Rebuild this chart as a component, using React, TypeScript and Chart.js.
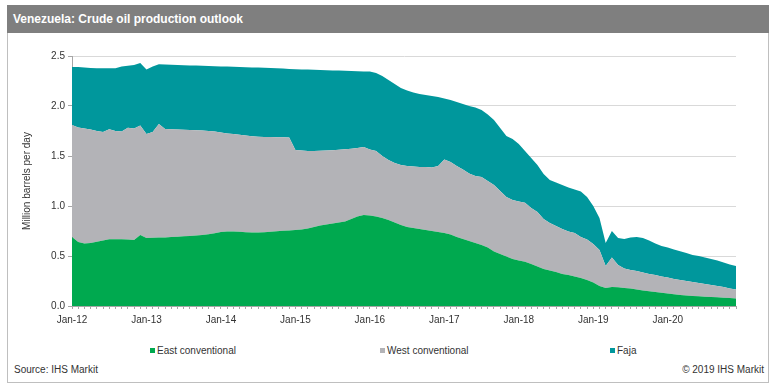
import React, { useEffect, useRef } from "react";
import { Chart, registerables } from "chart.js";

Chart.register(...registerables);

const MONTHS = ["Jan", "Feb", "Mar", "Apr", "May", "Jun", "Jul", "Aug", "Sep", "Oct", "Nov", "Dec"];
const YEARS = ["12", "13", "14", "15", "16", "17", "18", "19", "20"];
const CATEGORIES: string[] = [];
YEARS.forEach((y) => MONTHS.forEach((m) => CATEGORIES.push(`${m}-${y}`)));

const EAST = [
  0.69, 0.64, 0.625, 0.63, 0.643, 0.655, 0.667, 0.668, 0.667, 0.665, 0.66, 0.71,
  0.68, 0.683, 0.685, 0.685, 0.69, 0.693, 0.697, 0.70, 0.705, 0.71, 0.717, 0.727,
  0.74, 0.745, 0.745, 0.742, 0.738, 0.735, 0.735, 0.738, 0.742, 0.748, 0.752, 0.755,
  0.76, 0.765, 0.775, 0.79, 0.805, 0.815, 0.825, 0.835, 0.845, 0.87, 0.895, 0.91,
  0.905, 0.895, 0.88, 0.86, 0.835, 0.81, 0.79, 0.78, 0.77, 0.76, 0.75, 0.74,
  0.73, 0.715, 0.69, 0.67, 0.65, 0.63, 0.61, 0.585, 0.545, 0.52, 0.495, 0.47,
  0.455, 0.443, 0.42, 0.395, 0.37, 0.355, 0.34, 0.32, 0.31, 0.295, 0.28, 0.26,
  0.235, 0.2, 0.18, 0.19, 0.187, 0.18, 0.175, 0.165, 0.155, 0.148, 0.14, 0.133,
  0.125, 0.118, 0.11, 0.105, 0.1, 0.097, 0.093, 0.09, 0.087, 0.083, 0.08, 0.075,
];

const WEST = [
  1.12, 1.145, 1.15, 1.135, 1.107, 1.085, 1.10, 1.082, 1.078, 1.118, 1.115, 1.095,
  1.04, 1.057, 1.135, 1.085, 1.077, 1.072, 1.065, 1.06, 1.052, 1.044, 1.033, 1.018,
  0.995, 0.98, 0.975, 0.97, 0.967, 0.962, 0.958, 0.952, 0.948, 0.94, 0.935, 0.93,
  0.80, 0.79, 0.775, 0.76, 0.747, 0.74, 0.733, 0.727, 0.722, 0.702, 0.685, 0.68,
  0.66, 0.655, 0.62, 0.60, 0.595, 0.60, 0.61, 0.615, 0.62, 0.63, 0.635, 0.66,
  0.735, 0.725, 0.71, 0.695, 0.675, 0.67, 0.68, 0.665, 0.665, 0.63, 0.595, 0.59,
  0.59, 0.59, 0.56, 0.545, 0.50, 0.475, 0.46, 0.45, 0.435, 0.435, 0.41, 0.405,
  0.385, 0.36, 0.22, 0.295, 0.223, 0.195, 0.185, 0.185, 0.18, 0.172, 0.17, 0.162,
  0.16, 0.152, 0.15, 0.145, 0.14, 0.133, 0.127, 0.12, 0.113, 0.107, 0.095, 0.09,
];

const FAJA = [
  0.58, 0.605, 0.61, 0.615, 0.628, 0.637, 0.61, 0.628, 0.65, 0.62, 0.635, 0.625,
  0.645, 0.655, 0.597, 0.645, 0.646, 0.645, 0.646, 0.646, 0.647, 0.648, 0.65, 0.653,
  0.661, 0.669, 0.672, 0.678, 0.683, 0.689, 0.691, 0.692, 0.69, 0.689, 0.687, 0.685,
  0.808, 0.811, 0.814, 0.812, 0.808, 0.803, 0.798, 0.792, 0.785, 0.778, 0.768, 0.756,
  0.779, 0.78, 0.80, 0.80, 0.79, 0.77, 0.755, 0.74, 0.73, 0.72, 0.715, 0.69,
  0.61, 0.62, 0.64, 0.655, 0.675, 0.685, 0.67, 0.665, 0.65, 0.63, 0.61, 0.61,
  0.575, 0.517, 0.50, 0.47, 0.45, 0.43, 0.435, 0.44, 0.44, 0.435, 0.455, 0.425,
  0.38, 0.32, 0.23, 0.265, 0.27, 0.295, 0.325, 0.34, 0.345, 0.335, 0.315, 0.305,
  0.30, 0.295, 0.288, 0.28, 0.27, 0.27, 0.265, 0.26, 0.255, 0.245, 0.24, 0.235,
];

const SERIES_NAMES = ["East conventional", "West conventional", "Faja"];
const COLORS = ["#00A94F", "#B3B3B7", "#00979C"];

const FONT = "'Liberation Sans', Arial, sans-serif";

export default function App() {
  const ref = useRef<HTMLCanvasElement | null>(null);

  useEffect(() => {
    document.body.style.margin = "0";
    const canvas = ref.current;
    if (!canvas) return;
    const series = [EAST, WEST, FAJA];
    const chart = new Chart(canvas, {
      type: "line",
      data: {
        labels: CATEGORIES,
        datasets: series.map((d, i) => ({
          label: SERIES_NAMES[i],
          data: d,
          backgroundColor: COLORS[i],
          borderColor: COLORS[i],
          borderWidth: 0,
          pointRadius: 0,
          tension: 0,
          fill: i === 0 ? "origin" : "-1",
        })),
      },
      options: {
        animation: false,
        responsive: false,
        devicePixelRatio: 1,
        layout: { padding: { left: 21, right: 41, top: 22, bottom: 0 } },
        plugins: {
          legend: { display: false },
          tooltip: { enabled: false },
        },
        scales: {
          x: {
            type: "category",
            offset: false,
            grid: {
              display: true,
              drawOnChartArea: false,
              drawTicks: true,
              tickLength: 3,
              tickColor: "#A6A6A6",
            },
            border: { display: true, color: "#A6A6A6", width: 1 },
            ticks: {
              autoSkip: false,
              maxRotation: 0,
              minRotation: 0,
              padding: 5,
              color: "#333333",
              font: { family: FONT, size: 10 },
              callback: (_v: any, idx: number) =>
                idx % 12 === 0 ? CATEGORIES[idx] : "",
            },
            afterFit: (s: any) => {
              s.height = 28;
            },
          },
          y: {
            stacked: true,
            min: 0,
            max: 2.5,
            grid: {
              color: "#D9D9D9",
              lineWidth: 1,
              drawTicks: true,
              tickLength: 4,
              tickColor: "#A6A6A6",
            },
            border: { display: true, color: "#A6A6A6", width: 1 },
            ticks: {
              stepSize: 0.5,
              padding: 3,
              color: "#333333",
              font: { family: FONT, size: 10 },
              callback: (v: any) => Number(v).toFixed(1),
            },
            title: {
              display: true,
              text: "Million barrels per day",
              color: "#333333",
              font: { family: FONT, size: 10 },
              padding: 0,
            },
            afterFit: (s: any) => {
              s.width = 51;
            },
          },
        },
      },
    });
    return () => chart.destroy();
  }, []);

  const legendItem = (i: number, left: number) => (
    <div
      key={i}
      style={{
        position: "absolute",
        left,
        top: 344,
        height: 12,
        display: "flex",
        alignItems: "center",
        fontFamily: FONT,
        fontSize: 10,
        color: "#333333",
        whiteSpace: "nowrap",
      }}
    >
      <span
        style={{
          display: "inline-block",
          width: 5,
          height: 5,
          background: COLORS[i],
          marginRight: 2,
        }}
      />
      {SERIES_NAMES[i]}
    </div>
  );

  return (
    <div style={{ position: "relative", width: 777, height: 392, background: "#ffffff", overflow: "hidden" }}>
      <div
        style={{
          position: "absolute",
          left: 7,
          top: 5,
          width: 760,
          height: 376,
          border: "1px solid #BFBFBF",
        }}
      />
      <div
        style={{
          position: "absolute",
          left: 7,
          top: 5,
          width: 762,
          height: 28,
          background: "#7F7F7F",
          color: "#ffffff",
          fontFamily: FONT,
          fontWeight: "bold",
          fontSize: 12,
          lineHeight: "28px",
          paddingLeft: 6,
          boxSizing: "border-box",
          whiteSpace: "nowrap",
        }}
      >
        Venezuela: Crude oil production outlook
      </div>
      <canvas
        ref={ref}
        width={777}
        height={300}
        style={{ position: "absolute", left: 0, top: 34, width: 777, height: 300 }}
      />
      {legendItem(0, 150)}
      {legendItem(1, 380)}
      {legendItem(2, 610)}
      <div
        style={{
          position: "absolute",
          left: 14,
          top: 364,
          fontFamily: FONT,
          fontSize: 10,
          color: "#333333",
          whiteSpace: "nowrap",
        }}
      >
        Source: IHS Markit
      </div>
      <div
        style={{
          position: "absolute",
          right: 13,
          top: 364,
          fontFamily: FONT,
          fontSize: 10,
          color: "#333333",
          whiteSpace: "nowrap",
        }}
      >
        © 2019 IHS Markit
      </div>
    </div>
  );
}
